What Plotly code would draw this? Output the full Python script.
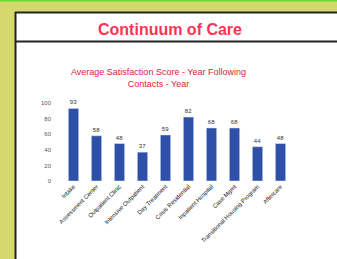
import plotly.graph_objects as go

categories = ["Intake", "Assessment Center", "Outpatient Clinic", "Intensive Outpatient",
              "Day Treatment", "Crisis Residential", "Inpatient Hospital", "Case Mgmt",
              "Transitional Housing Program", "Aftercare"]
values = [93, 58, 48, 37, 59, 82, 68, 68, 44, 48]
y_ticks = [0, 20, 40, 60, 80, 100]

W, H = 337, 259
L, R, T, B = 62, 45, 103, 78
pw, ph = W - L - R, H - T - B

def fx(px):
    return (px - L) / pw

def fy(py):
    return (H - B - py) / ph

fig = go.Figure(go.Bar(
    x=categories, y=values, marker_color="#2f50a8",
    text=values, textposition="outside", cliponaxis=False,
    textfont=dict(size=6, color="#333333", family="Liberation Sans"),
))

shapes = [
    dict(type="rect", xref="paper", yref="paper", x0=fx(-5), x1=fx(345), y0=fy(-2), y1=fy(1.5),
         fillcolor="#66dd33", line_width=0, layer="below"),
    dict(type="rect", xref="paper", yref="paper", x0=fx(15), x1=fx(345), y0=fy(12), y1=fy(270),
         fillcolor="white", line_width=0, layer="below"),
    dict(type="line", xref="paper", yref="paper", x0=fx(15.5), x1=fx(15.5), y0=fy(12), y1=fy(270),
         line=dict(color="#222222", width=2)),
    dict(type="line", xref="paper", yref="paper", x0=fx(15), x1=fx(345), y0=fy(12.5), y1=fy(12.5),
         line=dict(color="#222222", width=2)),
    dict(type="line", xref="paper", yref="paper", x0=fx(15), x1=fx(345), y0=fy(41.5), y1=fy(41.5),
         line=dict(color="#222222", width=2)),
]

annotations = [
    dict(text="<b>Continuum of Care</b>", xref="paper", yref="paper", x=fx(170), y=fy(29.5),
         xanchor="center", yanchor="middle", showarrow=False,
         font=dict(size=16, color="#ff3355", family="Liberation Sans")),
    dict(text="Average Satisfaction Score - Year Following<br>Contacts - Year",
         xref="paper", yref="paper", x=fx(158), y=fy(77.5), xanchor="center", yanchor="middle",
         showarrow=False, font=dict(size=9, color="#e0203a", family="Liberation Sans")),
]

fig.update_layout(
    width=W, height=H, margin=dict(l=L, r=R, t=T, b=B, pad=0),
    paper_bgcolor="#d5d86c", plot_bgcolor="white",
    shapes=shapes, annotations=annotations, showlegend=False, bargap=0.55,
    xaxis=dict(tickangle=-45, tickfont=dict(size=6, color="#222222", family="Liberation Sans"),
               showgrid=False, showline=False, ticks=""),
    yaxis=dict(range=[0, 100], tickvals=y_ticks, showgrid=False, zeroline=False,
               tickfont=dict(size=6, color="#555555", family="Liberation Sans"),
               ticklabelstandoff=10),
)

fig.write_html("out.html", config={"displayModeBar": False},
               post_script="document.body.style.margin='0';document.body.style.overflow='hidden';")
